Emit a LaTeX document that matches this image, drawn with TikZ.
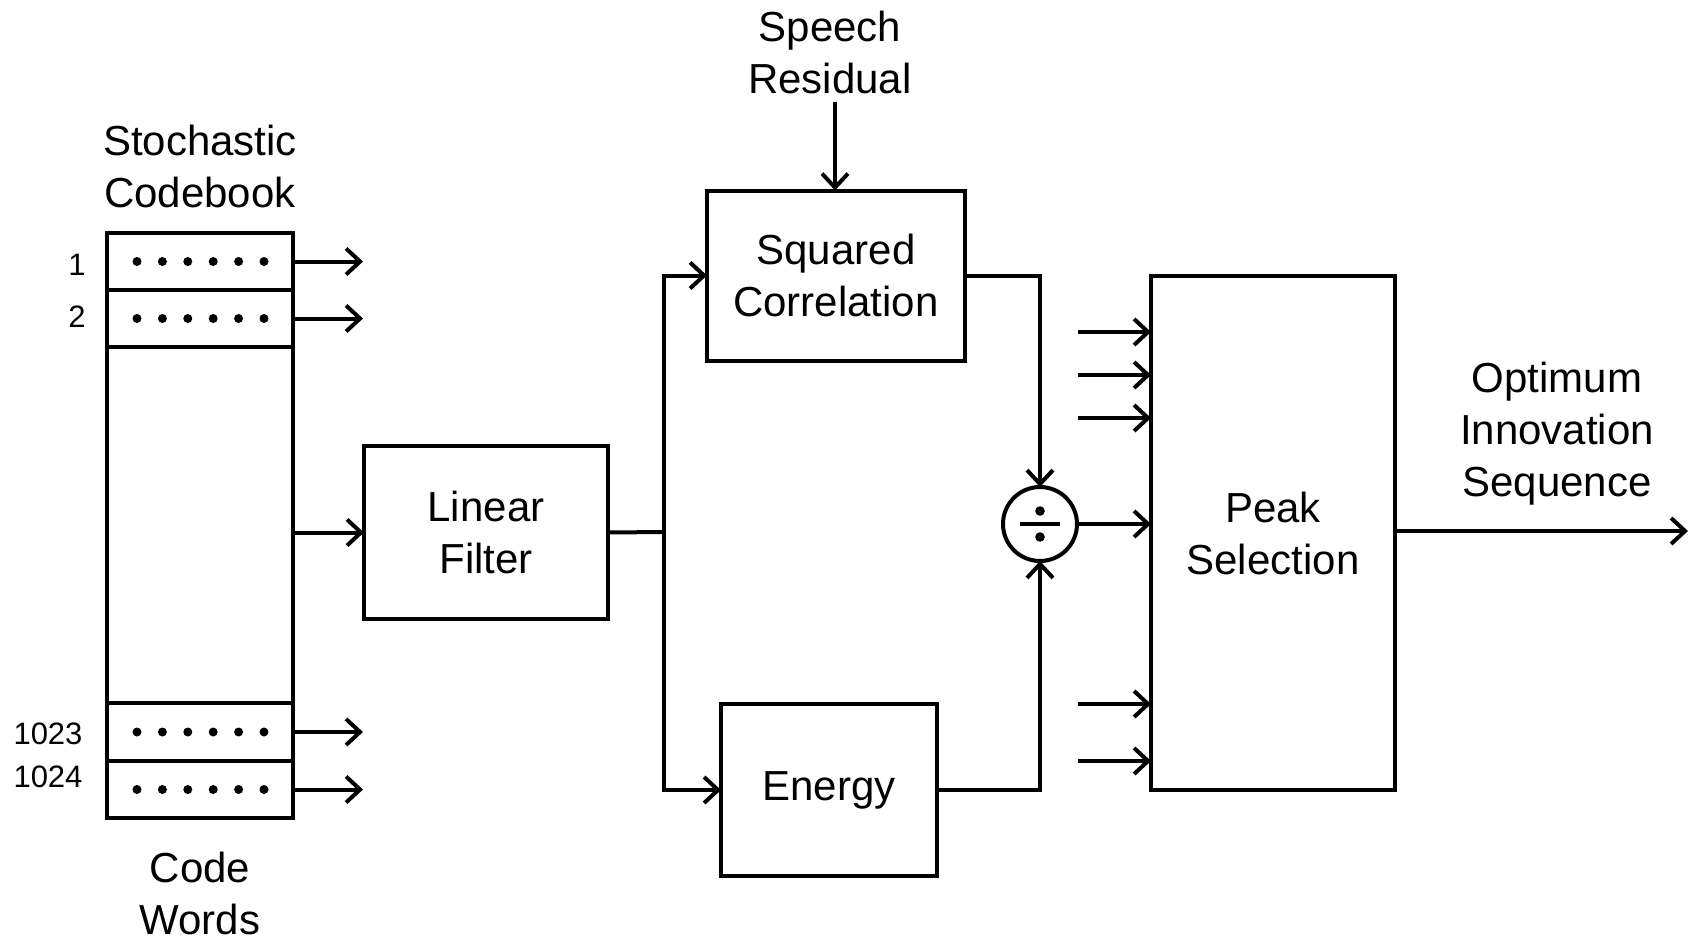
\documentclass[tikz,border=0pt]{standalone}
\usepackage{fontspec}
\setmainfont{Liberation Sans}
\usetikzlibrary{arrows.meta}

\begin{document}
\begin{tikzpicture}[x=1pt,y=-1pt,line width=4pt,
  >={Straight Barb[length=14pt,width=26pt]},
  blk/.style={draw,rectangle,inner sep=0pt,outer sep=0pt,align=center,font=\fontsize{42}{52}\selectfont},
  cell/.style={draw,rectangle,inner sep=0pt,outer sep=0pt,minimum width=186pt},
  lbl/.style={align=center,inner sep=0pt,font=\fontsize{42}{52}\selectfont},
  num/.style={inner sep=0pt,font=\fontsize{31}{31}\selectfont}]
\useasboundingbox (0,0) rectangle (1690,940);
% codebook
\node[cell,minimum height=57pt] (r1) at (200,261.5) {};
\node[cell,minimum height=57pt] (r2) at (200,318.5) {};
\node[cell,minimum height=356pt] (body) at (200,525) {};
\node[cell,minimum height=58pt] (r1023) at (200,732) {};
\node[cell,minimum height=57pt] (r1024) at (200,789.5) {};
\foreach \r in {r1,r2,r1023,r1024}
  \foreach \k in {0,...,5}
    \fill ([xshift={(30+\k*25.4)*1pt}]\r.west) circle (4.5pt);
\node[num] (n1) at (77,265) {1};
\node[num] (n2) at (77,317) {2};
\node[num] (n1023) at (48,734) {1023};
\node[num] (n1024) at (48,777) {1024};
\node[lbl] (cb) at (200,166) {Stochastic\\Codebook};
\node[lbl] (cw) at (200,893) {Code\\Words};
% blocks
\node[blk,minimum width=244pt,minimum height=173pt] (filter) at (486,532.5) {Linear\\Filter};
\node[blk,minimum width=258pt,minimum height=170pt] (sq) at (836,275.5) {Squared\\Correlation};
\node[blk,minimum width=216pt,minimum height=172pt] (en) at (829,790) {Energy};
\node[blk,minimum width=244pt,minimum height=514pt] (peak) at (1273,533) {Peak\\Selection};
\node[draw,circle,minimum size=74pt,inner sep=0pt,outer sep=0pt] (div) at (1040,524) {};
\draw[line width=3.4pt] ([xshift=-20pt]div.center) -- ([xshift=20pt]div.center);
\fill ([yshift=13pt]div.center) circle (4.8pt);
\fill ([yshift=-13pt]div.center) circle (4.8pt);
\node[lbl] (sr) at (830,52) {Speech\\Residual};
\node[lbl] (opt) at (1557,434) {Optimum\\Innovation\\Sequence};
% connectors
\coordinate (srin) at (835,102);
\coordinate (split) at (664,532);
\coordinate (out) at (1688,531);
\foreach \r in {r1,r2,r1023,r1024}
  \draw[->] (\r.east) -- ++(70,0);
\draw[->] (filter.west -| body.east) -- (filter.west);
\draw (filter.east) -- (split);
\draw[->] (split) |- (sq.west);
\draw[->] (split) |- (en.west);
\draw[->] (srin) -- (srin |- sq.north);
\draw[->] (sq.east) -| (div.north);
\draw[->] (en.east) -| (div.south);
\draw[->] (div.east) -- (div.east -| peak.west);
\foreach \y [count=\i] in {332,375,418,704,761} {
  \coordinate (in\i) at (1078,\y);
  \draw[->] (in\i) -- (in\i -| peak.west);
}
\draw[->] (peak.east |- out) -- (out);
\end{tikzpicture}
\end{document}
